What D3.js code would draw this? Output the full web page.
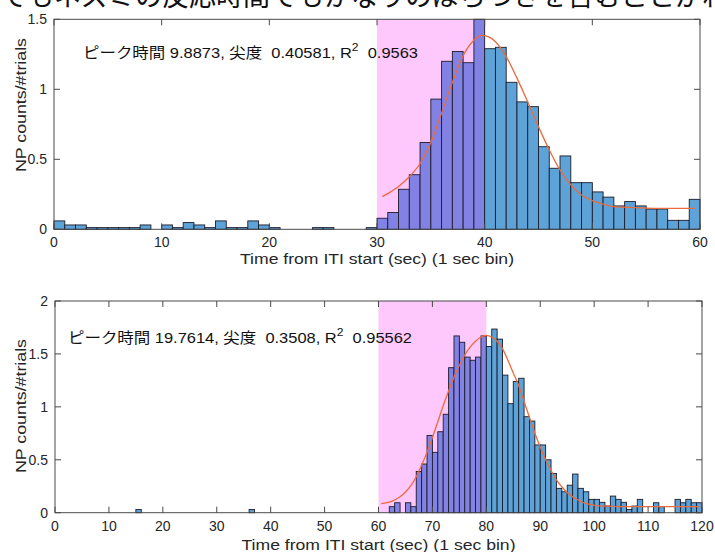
<!DOCTYPE html>
<html>
<head>
<meta charset="utf-8">
<script src="https://cdn.jsdelivr.net/npm/d3@7"></script>
<style>
  body { margin: 0; background: #fff; }
  text { font-family: "Liberation Sans", Arial, sans-serif; fill: #262626; }
  .jp { font-family: "Noto Sans CJK JP", sans-serif; }
  .note { font-family: "Liberation Sans", "Noto Sans CJK JP", sans-serif; white-space: pre; }
</style>
</head>
<body>
<div id="chart"></div>
<script>
// values (NP counts/#trials per 1 sec bin)
const topCounts = [0.06, 0.031, 0.031, 0.012, 0.012, 0.012, 0.012, 0.012, 0.031, 0,
  0.031, 0.012, 0.048, 0.031, 0.012, 0.06, 0.012, 0.012, 0.06, 0.031,
  0.012, 0, 0, 0, 0.012, 0.012, 0, 0, 0, 0.012,
  0.079, 0.12, 0.286, 0.39, 0.62, 0.93, 1.2, 1.27, 1.19, 1.5,
  1.29, 1.3, 1.05, 0.91, 0.876, 0.59, 0.436, 0.524, 0.333, 0.333,
  0.267, 0.23, 0.167, 0.198, 0.167, 0.145, 0.145, 0.064, 0.064, 0.214];

const bottomCounts = [0, 0, 0, 0, 0, 0, 0, 0, 0, 0,
  0, 0, 0, 0, 0, 0.03, 0, 0, 0, 0,
  0, 0, 0, 0, 0, 0, 0, 0, 0, 0,
  0, 0, 0, 0, 0, 0, 0.03, 0, 0, 0,
  0, 0, 0, 0, 0, 0, 0, 0, 0, 0,
  0, 0, 0, 0, 0, 0, 0, 0, 0, 0,
  0, 0, 0.057, 0.094, 0, 0.094, 0.057, 0.39, 0.46, 0.73,
  0.57, 0.765, 0.93, 1.37, 1.67, 1.61, 1.47, 1.44, 1.47, 1.67,
  1.57, 1.735, 1.64, 1.3, 1.03, 1.24, 1.27, 0.907, 0.866, 0.64,
  0.64, 0.5, 0.37, 0.23, 0.198, 0.26, 0.365, 0.23, 0.198, 0.126,
  0.126, 0.098, 0.063, 0.157, 0.126, 0.098, 0.03, 0.063, 0.126, 0,
  0, 0.094, 0.057, 0, 0, 0.126, 0.094, 0.126, 0.094, 0.094];

// fitted curve, points
const topFitX = [30.5, 31, 32, 33, 34, 35, 36, 37, 38, 39, 39.7, 40, 41, 42, 43, 44, 45, 46, 47, 48, 49, 50, 51, 52, 54, 56, 59.5];
const topFitY = [0.233, 0.255, 0.305, 0.375, 0.47, 0.62, 0.83, 1.05, 1.24, 1.35, 1.385, 1.383, 1.34, 1.233, 1.08, 0.91, 0.733, 0.567, 0.424, 0.317, 0.245, 0.205, 0.179, 0.162, 0.155, 0.15, 0.15];
const bottomFitX = [60.5, 62, 63, 64, 65, 66, 67, 68, 69, 70, 71, 72, 73, 74, 75, 76, 77, 78, 79, 80, 81, 82, 83, 84, 85, 86, 87, 88, 89, 90, 91, 92, 93, 94, 95, 96, 97, 98, 99, 100, 102, 105, 110, 119.5];
const bottomFitY = [0.085, 0.10, 0.12, 0.15, 0.195, 0.255, 0.34, 0.45, 0.57, 0.71, 0.86, 1.01, 1.15, 1.28, 1.39, 1.49, 1.565, 1.62, 1.66, 1.675, 1.66, 1.62, 1.55, 1.44, 1.32, 1.2, 1.05, 0.9, 0.75, 0.62, 0.5, 0.4, 0.31, 0.245, 0.19, 0.15, 0.12, 0.095, 0.08, 0.07, 0.062, 0.058, 0.057, 0.057];

const topXTicks = [0, 10, 20, 30, 40, 50, 60];
const topYTicks = [0, 0.5, 1, 1.5];
const bottomXTicks = [0, 10, 20, 30, 40, 50, 60, 70, 80, 90, 100, 110, 120];
const bottomYTicks = [0, 0.5, 1, 1.5, 2];

const topNote = ["ピーク時間 9.8873, 尖度  0.40581, R", "2", "  0.9563"];
const bottomNote = ["ピーク時間 19.7614, 尖度  0.3508, R", "2", "  0.95562"];
const headerText = "でもネズミの反応時間でもかなりのばらつきを含むことがわかる";
const xTitle = "Time from ITI start (sec) (1 sec bin)";
const yTitle = "NP counts/#trials";

const width = 715, height = 552;
const svg = d3.select("#chart").append("svg")
  .attr("width", width).attr("height", height);

// cut-off caption at the very top
svg.append("text").attr("class", "jp")
  .attr("x", 0).attr("y", 6)
  .style("font-size", "27px").style("fill", "#111")
  .text(headerText);

function drawPanel(p) {
  const x = d3.scaleLinear().domain([0, p.xmax]).range([p.left, p.right]);
  const y = d3.scaleLinear().domain([0, p.ymax]).range([p.bottom, p.top]);
  const g = svg.append("g");

  // shaded window
  g.append("rect")
    .attr("x", x(p.shade[0])).attr("y", y(p.ymax))
    .attr("width", x(p.shade[1]) - x(p.shade[0]))
    .attr("height", y(0) - y(p.ymax))
    .attr("fill", "#ffc8fc");

  // histogram bars
  const bins = p.counts.map((v, i) => ({ x0: i, x1: i + 1, v: v }));
  g.selectAll(".bar").data(bins).enter().append("rect")
    .attr("class", "bar")
    .attr("x", d => x(d.x0))
    .attr("y", d => y(Math.min(d.v, p.ymax)))
    .attr("width", d => x(d.x1) - x(d.x0))
    .attr("height", d => y(0) - y(Math.min(d.v, p.ymax)))
    .attr("fill", d => (d.x0 >= p.shade[0] && d.x0 < p.shade[1]) ? "#8282e4" : "#5ea3d8")
    .attr("stroke", "#1c1c2a")
    .attr("stroke-width", 0.9);

  // fit curve
  const line = d3.line().x(d => x(d[0])).y(d => y(d[1])).curve(d3.curveMonotoneX);
  g.append("path")
    .datum(p.fitX.map((v, i) => [v, p.fitY[i]]))
    .attr("d", line)
    .attr("fill", "none")
    .attr("stroke", "#ec6a3c")
    .attr("stroke-width", 1.3);

  // box + inward ticks (MATLAB style)
  const axisColor = "#4a4a4a";
  g.append("rect")
    .attr("x", p.left).attr("y", p.top)
    .attr("width", p.right - p.left).attr("height", p.bottom - p.top)
    .attr("fill", "none").attr("stroke", axisColor).attr("stroke-width", 1);
  const tl = 6;
  p.xticks.forEach(t => {
    g.append("line").attr("x1", x(t)).attr("x2", x(t)).attr("y1", p.bottom).attr("y2", p.bottom - tl).attr("stroke", axisColor);
    g.append("line").attr("x1", x(t)).attr("x2", x(t)).attr("y1", p.top).attr("y2", p.top + tl).attr("stroke", axisColor);
    g.append("text").attr("x", x(t)).attr("y", p.bottom + 18)
      .attr("text-anchor", "middle").style("font-size", "14px").text(t);
  });
  p.yticks.forEach(t => {
    g.append("line").attr("x1", p.left).attr("x2", p.left + tl).attr("y1", y(t)).attr("y2", y(t)).attr("stroke", axisColor);
    g.append("line").attr("x1", p.right).attr("x2", p.right - tl).attr("y1", y(t)).attr("y2", y(t)).attr("stroke", axisColor);
    g.append("text").attr("x", p.left - 7).attr("y", y(t) + 5)
      .attr("text-anchor", "end").style("font-size", "14px").text(t);
  });

  // axis titles
  g.append("text").attr("x", (p.left + p.right) / 2).attr("y", p.xTitleY)
    .attr("text-anchor", "middle").style("font-size", "14px")
    .attr("textLength", 274).attr("lengthAdjust", "spacingAndGlyphs")
    .text(xTitle);
  g.append("text")
    .attr("transform", `translate(26,${p.yTitleY}) rotate(-90)`)
    .attr("text-anchor", "middle").style("font-size", "15px")
    .attr("textLength", 134).attr("lengthAdjust", "spacingAndGlyphs")
    .text(yTitle);

  // fit summary
  const note = g.append("text").attr("class", "note")
    .attr("x", p.noteX).attr("y", p.noteY)
    .style("font-size", "15px").style("fill", "#111")
    .attr("textLength", p.noteLen).attr("lengthAdjust", "spacingAndGlyphs");
  note.append("tspan").text(p.note[0]);
  note.append("tspan").attr("dy", -7).style("font-size", "11px").text(p.note[1]);
  note.append("tspan").attr("dy", 7).text(p.note[2]);
}

drawPanel({
  counts: topCounts, fitX: topFitX, fitY: topFitY,
  xticks: topXTicks, yticks: topYTicks, xmax: 60, ymax: 1.5, shade: [30, 40],
  left: 54, right: 700, top: 19.3, bottom: 229.3,
  xTitleY: 264, yTitleY: 105, note: topNote, noteX: 83, noteY: 58, noteLen: 335
});

drawPanel({
  counts: bottomCounts, fitX: bottomFitX, fitY: bottomFitY,
  xticks: bottomXTicks, yticks: bottomYTicks, xmax: 120, ymax: 2, shade: [60, 80],
  left: 55, right: 702, top: 301, bottom: 512.7,
  xTitleY: 550, yTitleY: 406, note: bottomNote, noteX: 68, noteY: 343, noteLen: 344
});
</script>
</body>
</html>
